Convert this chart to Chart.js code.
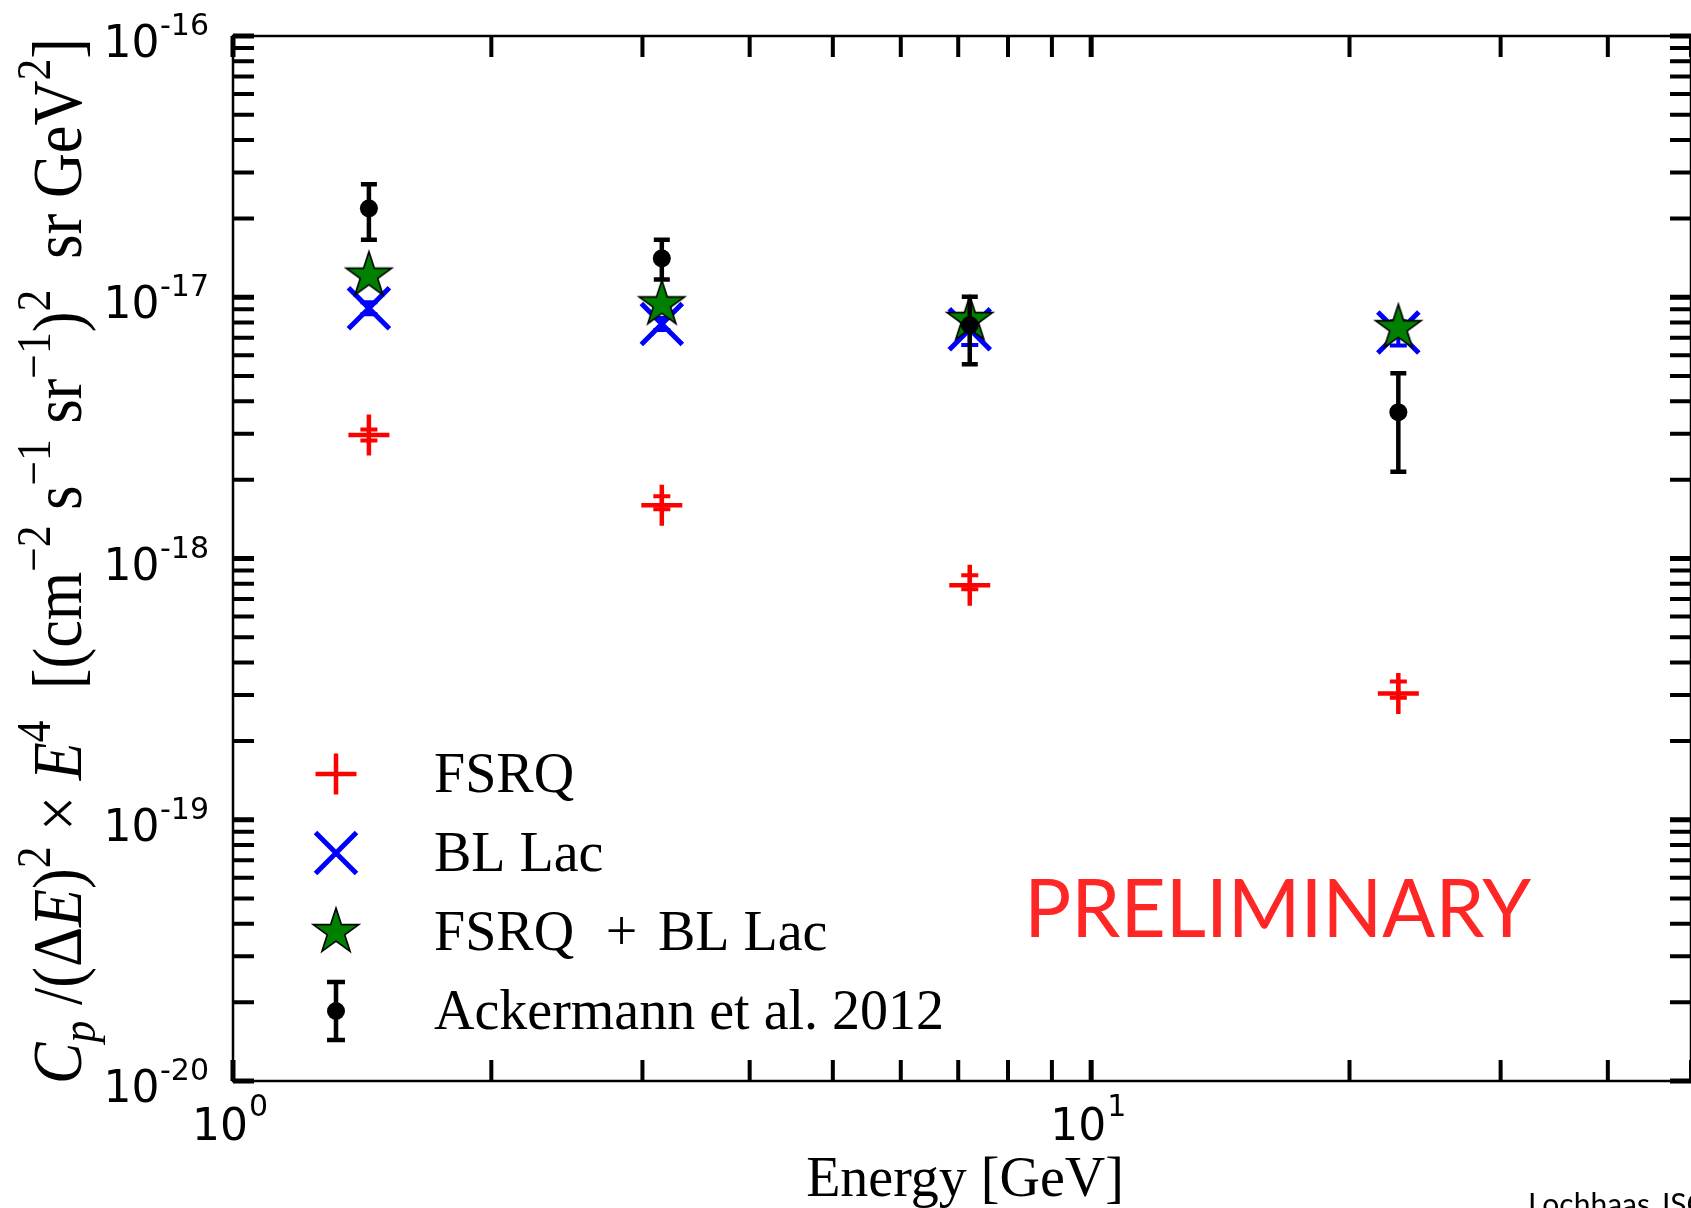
<!DOCTYPE html>
<html>
<head>
<meta charset="utf-8">
<script src="https://cdn.jsdelivr.net/npm/chart.js@4.4.0/dist/chart.umd.min.js"></script>
<style>
html,body{margin:0;padding:0;background:#fff;overflow:hidden}
#wrap{width:1691px;height:1208px;position:relative}
canvas{display:block}
</style>
</head>
<body>
<div id="wrap"><canvas id="c" width="1691" height="1208" style="width:1691px;height:1208px"></canvas></div>
<script>
// ---- data ----
const energies   = [1.44, 3.16, 7.22, 22.8];            // GeV, bin centres
const fsrq       = [2.97e-18, 1.60e-18, 7.9e-19, 3.04e-19];
const fsrqUp     = [3.12e-18, 1.73e-18, 8.63e-19, 3.38e-19];
const fsrqLo     = [2.83e-18, 1.545e-18, 7.63e-19, 2.93e-19];
const bllac      = [9.07e-18, 7.90e-18, 7.54e-18, 7.33e-18];
const bllacUp    = [9.56e-18, 8.32e-18, 8.30e-18, 8.10e-18];
const bllacLo    = [8.60e-18, 7.50e-18, 6.56e-18, 6.54e-18];
const combined   = [1.21e-17, 9.40e-18, 8.19e-18, 7.62e-18];
const ackermann  = [2.19e-17, 1.41e-17, 7.83e-18, 3.63e-18];
const ackUp      = [2.71e-17, 1.66e-17, 1.005e-17, 5.12e-18];
const ackLo      = [1.66e-17, 1.17e-17, 5.54e-18, 2.15e-18];
const yDecades   = [-20, -19, -18, -17, -16];
const xDecades   = [0, 1];
const xMin = 1, xMax = 50, yMin = 1e-20, yMax = 1e-16;
const legendLabels = ['FSRQ', 'BL Lac', 'FSRQ + BL Lac', 'Ackermann et al. 2012'];

// target plot box in page pixels (right spine lies just past the picture edge)
const W = 1691, H = 1208;
const AREA = {left: 233, top: 36, right: 1701, bottom: 1081};

// ---- star marker image ----
function makeStar(R, fill) {
  const c = document.createElement('canvas');
  const s = 2 * R + 6;
  c.width = s; c.height = s;
  const g = c.getContext('2d');
  g.beginPath();
  for (let k = 0; k < 10; k++) {
    const r = (k % 2) ? R * 0.381966 : R;
    const a = -Math.PI / 2 + k * Math.PI / 5;
    g.lineTo(s / 2 + r * Math.cos(a), s / 2 + r * Math.sin(a));
  }
  g.closePath();
  g.fillStyle = fill; g.fill();
  g.lineWidth = 1.6; g.strokeStyle = '#000'; g.lineJoin = 'miter'; g.stroke();
  return c;
}
const starImg = makeStar(24, '#008000');

const pts = arr => energies.map((x, i) => ({x: x, y: arr[i]}));

// ---- error bars ----
const errorBars = {
  id: 'errorBars',
  afterDatasetDraw(chart, args) {
    const ds = chart.data.datasets[args.index];
    if (!ds.errUp) return;
    const xs = chart.scales.x, ys = chart.scales.y, ctx = chart.ctx;
    ctx.save();
    ctx.strokeStyle = ds.errColor; ctx.lineWidth = ds.errWidth; ctx.lineCap = 'butt';
    ds.data.forEach((p, i) => {
      const px = xs.getPixelForValue(p.x);
      const yt = ys.getPixelForValue(ds.errUp[i]);
      const yb = ys.getPixelForValue(ds.errLo[i]);
      ctx.beginPath();
      ctx.moveTo(px, yt); ctx.lineTo(px, yb);
      ctx.moveTo(px - ds.capHalf, yt); ctx.lineTo(px + ds.capHalf, yt);
      ctx.moveTo(px - ds.capHalf, yb); ctx.lineTo(px + ds.capHalf, yb);
      ctx.stroke();
    });
    ctx.restore();
  }
};

// ---- rich text helper ----
function richPieces(ctx, pieces, size, family) {
  const out = [];
  let w = 0;
  pieces.forEach(p => {
    const [t, st, pos] = p;
    const s = pos ? size * 0.7 : size;
    const font = (st === 'i' ? 'italic ' : '') + s + 'px ' + family;
    ctx.font = font;
    const dy = pos === 'sup' ? -size * 0.45 : (pos === 'sub' ? size * 0.2 : 0);
    const m = ctx.measureText(t).width;
    out.push({t, font, x: w, dy});
    w += m;
  });
  return {items: out, width: w};
}
function drawRich(ctx, rich, x0, y0) {
  rich.items.forEach(it => {
    ctx.font = it.font;
    ctx.fillText(it.t, x0 + it.x, y0 + it.dy);
  });
}

const yTitle = [
  ['C', 'i'], ['p', 'i', 'sub'], [' /(', 'r'], ['\u0394', 'r'], ['E', 'i'], [')', 'r'], ['2', 'r', 'sup'],
  [' \u00d7 ', 'r'], ['E', 'i'], ['4', 'r', 'sup'], ['  [(cm', 'r'], ['\u22122', 'r', 'sup'],
  [' s', 'r'], ['\u22121', 'r', 'sup'], [' sr', 'r'], ['\u22121', 'r', 'sup'], [')', 'r'], ['2', 'r', 'sup'],
  ['  sr GeV', 'r'], ['2', 'r', 'sup'], [']', 'r']
];

// ---- axes, labels, legend ----
const frame = {
  id: 'frame',
  afterDraw(chart) {
    const ctx = chart.ctx, a = chart.chartArea;
    const xs = chart.scales.x, ys = chart.scales.y;
    ctx.save();
    ctx.strokeStyle = '#000'; ctx.lineWidth = 2.5;
    ctx.strokeRect(a.left, a.top, a.right - a.left, a.bottom - a.top);
    const L = 21;
    ctx.lineCap = 'butt';
    xDecades.forEach(d => {
      for (let m = 1; m <= 9; m++) {
        const v = m * Math.pow(10, d);
        if (v < xMin || v > xMax) continue;
        const px = xs.getPixelForValue(v);
        ctx.lineWidth = (m === 1) ? 5 : 4;
        ctx.beginPath();
        ctx.moveTo(px, a.bottom); ctx.lineTo(px, a.bottom - L);
        ctx.moveTo(px, a.top); ctx.lineTo(px, a.top + L);
        ctx.stroke();
      }
    });
    yDecades.forEach(d => {
      for (let m = 1; m <= 9; m++) {
        const v = m * Math.pow(10, d);
        if (v < yMin * 0.999 || v > yMax * 1.001) continue;
        const py = ys.getPixelForValue(v);
        ctx.lineWidth = (m === 1) ? 5 : 4;
        ctx.beginPath();
        ctx.moveTo(a.left, py); ctx.lineTo(a.left + L, py);
        ctx.moveTo(a.right, py); ctx.lineTo(a.right - L, py);
        ctx.stroke();
      }
    });
    ctx.fillStyle = '#000';
    ctx.textBaseline = 'alphabetic';
    ctx.textAlign = 'left';
    const sans = '"DejaVu Sans"';
    yDecades.forEach(d => {
      const py = ys.getPixelForValue(Math.pow(10, d));
      ctx.font = '44px ' + sans;
      ctx.fillText('10', 103.5, py + 21);
      ctx.font = '30px ' + sans;
      ctx.fillText(String(d), 160, py - 1);
    });
    xDecades.forEach(d => {
      const px = xs.getPixelForValue(Math.pow(10, d));
      ctx.font = '44px ' + sans;
      const w = ctx.measureText('10').width;
      ctx.fillText('10', px - 41, 1140);
      ctx.font = '30px ' + sans;
      ctx.fillText(String(d), px - 41 + w + 1, 1116);
    });
    const serif = '"Liberation Serif"';
    ctx.font = '56px ' + serif;
    ctx.textAlign = 'center';
    ctx.fillText('Energy [GeV]', 965, 1196);
    ctx.textAlign = 'left';
    const rich = richPieces(ctx, yTitle, 70, serif);
    const target = 1046;
    ctx.save();
    ctx.translate(81, 561);
    ctx.rotate(-Math.PI / 2);
    ctx.scale(target / rich.width, 1);
    drawRich(ctx, rich, -rich.width / 2, 0);
    ctx.restore();

    // legend
    const mx = 336, rows = [774, 853, 932, 1011];
    ctx.lineCap = 'butt';
    ctx.strokeStyle = '#ff0000'; ctx.lineWidth = 4.5;
    ctx.beginPath();
    ctx.moveTo(mx - 20.5, rows[0]); ctx.lineTo(mx + 20.5, rows[0]);
    ctx.moveTo(mx, rows[0] - 20.5); ctx.lineTo(mx, rows[0] + 20.5);
    ctx.stroke();
    ctx.strokeStyle = '#0000ff'; ctx.lineWidth = 5;
    ctx.beginPath();
    ctx.moveTo(mx - 20.5, rows[1] - 20.5); ctx.lineTo(mx + 20.5, rows[1] + 20.5);
    ctx.moveTo(mx - 20.5, rows[1] + 20.5); ctx.lineTo(mx + 20.5, rows[1] - 20.5);
    ctx.stroke();
    ctx.drawImage(starImg, mx - starImg.width / 2, rows[2] - starImg.height / 2);
    ctx.strokeStyle = '#000'; ctx.lineWidth = 4.5;
    ctx.beginPath();
    ctx.moveTo(mx, rows[3] - 29); ctx.lineTo(mx, rows[3] + 29);
    ctx.moveTo(mx - 9, rows[3] - 29); ctx.lineTo(mx + 9, rows[3] - 29);
    ctx.moveTo(mx - 9, rows[3] + 29); ctx.lineTo(mx + 9, rows[3] + 29);
    ctx.stroke();
    ctx.fillStyle = '#000';
    ctx.beginPath(); ctx.arc(mx, rows[3], 9, 0, Math.PI * 2); ctx.fill();
    ctx.font = '56px ' + serif;
    ctx.fillText(legendLabels[0], 434, rows[0] + 18);
    ctx.fillText(legendLabels[1], 434, rows[1] + 18);
    const parts = legendLabels[2].split(' + ');
    ctx.fillText(parts[0], 434, rows[2] + 18);
    ctx.textAlign = 'center';
    ctx.fillText('+', 621.5, rows[2] + 18);
    ctx.textAlign = 'left';
    ctx.fillText(parts[1], 658, rows[2] + 18);
    ctx.fillText(legendLabels[3], 434, rows[3] + 18);

    // PRELIMINARY
    ctx.font = '82px Lato';
    ctx.fillStyle = '#ff2626';
    const m = ctx.measureText('PRELIMINARY');
    const inkW = m.actualBoundingBoxLeft + m.actualBoundingBoxRight;
    ctx.save();
    ctx.translate(1031, 937);
    ctx.scale(501 / inkW, 1);
    ctx.fillText('PRELIMINARY', m.actualBoundingBoxLeft, 0);
    ctx.restore();

    // footer (cut by the picture edge)
    ctx.fillStyle = '#000';
    ctx.font = '30px Lato';
    ctx.fillText('Lochhaas JSC', 1528, 1215);
    ctx.restore();
  }
};

const chart = new Chart(document.getElementById('c'), {
  type: 'scatter',
  data: {
    datasets: [
      {label: legendLabels[0], data: pts(fsrq), showLine: false, order: 4,
       pointStyle: 'cross', pointRadius: 20.5, pointHoverRadius: 20.5,
       pointBorderColor: '#ff0000', pointBackgroundColor: '#ff0000', pointBorderWidth: 4.5, pointHoverBorderWidth: 4.5,
       errUp: fsrqUp, errLo: fsrqLo, errColor: '#ff0000', errWidth: 4, capHalf: 8.5},
      {label: legendLabels[1], data: pts(bllac), showLine: false, order: 3,
       pointStyle: 'crossRot', pointRadius: 29, pointHoverRadius: 29,
       pointBorderColor: '#0000ff', pointBackgroundColor: '#0000ff', pointBorderWidth: 5, pointHoverBorderWidth: 5,
       errUp: bllacUp, errLo: bllacLo, errColor: '#0000ff', errWidth: 4, capHalf: 8.5},
      {label: legendLabels[2], data: pts(combined), showLine: false, order: 2,
       pointStyle: starImg, pointRadius: 24, pointHoverRadius: 24},
      {label: legendLabels[3], data: pts(ackermann), showLine: false, order: 1,
       pointStyle: 'circle', pointRadius: 9, pointHoverRadius: 9,
       pointBorderColor: '#000', pointBackgroundColor: '#000', pointBorderWidth: 0,
       errUp: ackUp, errLo: ackLo, errColor: '#000', errWidth: 4.5, capHalf: 8}
    ]
  },
  options: {
    responsive: false,
    maintainAspectRatio: false,
    animation: false,
    devicePixelRatio: 1,
    layout: {autoPadding: false,
             padding: {left: AREA.left, top: AREA.top, right: W - AREA.right, bottom: H - AREA.bottom}},
    plugins: {legend: {display: false}, tooltip: {enabled: false}},
    events: [],
    scales: {
      x: {type: 'logarithmic', min: xMin, max: xMax, display: false},
      y: {type: 'logarithmic', min: yMin, max: yMax, display: false}
    }
  },
  plugins: [errorBars, frame]
});

// make the plot box land exactly where intended
(function fit() {
  const ca = chart.chartArea;
  const p = chart.options.layout.padding;
  const np = {
    left: p.left - (ca.left - AREA.left),
    top: p.top - (ca.top - AREA.top),
    right: p.right - (AREA.right - ca.right),
    bottom: p.bottom - (AREA.bottom - ca.bottom)
  };
  if (np.left !== p.left || np.top !== p.top || np.right !== p.right || np.bottom !== p.bottom) {
    chart.options.layout.padding = np;
    chart.update('none');
  }
})();
</script>
</body>
</html>
